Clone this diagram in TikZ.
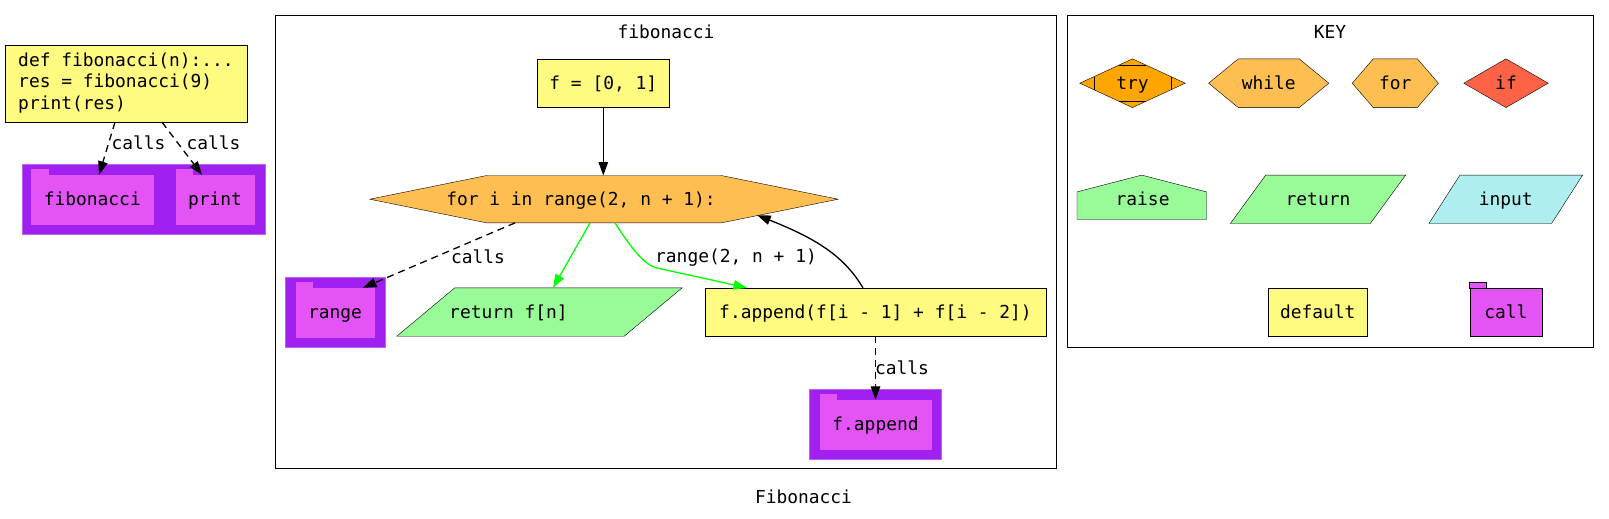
\documentclass[tikz,border=0pt]{standalone}
\usepackage{fontspec}
\setmonofont{DejaVu Sans Mono}
\usetikzlibrary{arrows.meta}
\pgfdeclarelayer{bg}
\pgfdeclarelayer{shp}
\pgfsetlayers{bg,shp,main}
\definecolor{ylw}{HTML}{FFFA80}
\definecolor{orng}{HTML}{FFBE52}
\definecolor{tryc}{HTML}{FFA500}
\definecolor{ifc}{HTML}{FF6347}
\definecolor{grn}{HTML}{98FB98}
\definecolor{turq}{HTML}{AFEEEE}
\definecolor{clpur}{HTML}{A020F0}
\definecolor{fold}{HTML}{E453F6}
\definecolor{edgegrn}{HTML}{00FF00}
\newcommand\hexfill[3]{\filldraw[fill=#3] (#1.west) -- ([xshift=#2]#1.north west) -- ([xshift=-#2]#1.north east) -- (#1.east) -- ([xshift=-#2]#1.south east) -- ([xshift=#2]#1.south west) -- cycle;}
\newcommand\parfill[3]{\filldraw[fill=#3] (#1.south west) -- ([xshift=#2]#1.north west) -- (#1.north east) -- ([xshift=-#2]#1.south east) -- cycle;}
\newcommand\diafill[2]{\filldraw[fill=#2] (#1.west) -- (#1.north) -- (#1.east) -- (#1.south) -- cycle;}
\newcommand\foldtab[3]{\filldraw[#3] (#1.north west) rectangle ([xshift=#2,yshift=6pt]#1.north west);}
\begin{document}
\begin{tikzpicture}[x=1pt,y=-1pt,line width=1.2pt,
  font=\fontsize{17.9}{21.3}\selectfont\ttfamily,
  >={Triangle[length=13.5pt,width=9.5pt]},
  txt/.style={inner sep=0pt,text height=12.6pt,text depth=0pt},
  box/.style={txt,draw,fill=ylw},
  ghost/.style={txt},
  folder/.style={txt,fill=fold,draw=fold},
  dashedge/.style={->,line width=1.3pt,dash pattern=on 7pt off 5pt},
  solidedge/.style={->,line width=1.3pt},
  greenedge/.style={->,line width=1.3pt,draw=edgegrn}]
\useasboundingbox (0,0) rectangle (1609,519);
\begin{pgfonlayer}{bg}
\fill[white] (0,0) rectangle (1609,519);
\filldraw[fill=clpur,draw=clpur!70!white] (21.7,164) rectangle (265,234);
\filldraw[fill=clpur,draw=clpur!70!white] (285,277) rectangle (385,347);
\filldraw[fill=clpur,draw=clpur!70!white] (809,389) rectangle (941,459);
\draw (275,15.4) rectangle (1056,468);
\draw (1067,15.4) rectangle (1592.7,347);
\end{pgfonlayer}

% left part
\node[draw,fill=ylw,inner sep=0pt,minimum width=242pt,minimum height=77pt] (main) at (126,83.5) {\begin{tabular}{@{}l@{}}def fibonacci(n):...\\res = fibonacci(9)\\print(res)\end{tabular}};
\node[folder,minimum width=121.3pt,minimum height=49pt] (fibcall) at (92.3,199.5) {fibonacci};
\node[folder,minimum width=78pt,minimum height=49pt] (printcall) at (215,199.5) {print};
\foldtab{fibcall}{16.7pt}{fill=fold,draw=fold}
\foldtab{printcall}{16.7pt}{fill=fold,draw=fold}
\draw[dashedge] ([xshift=-11pt]main.south) -- ([xshift=6.7pt]fibcall.north);
\draw[dashedge] ([xshift=36pt]main.south) -- ([xshift=-13pt]printcall.north);
\node[txt] (lc1) at (138.5,143) {calls};
\node[txt] (lc2) at (213.5,143) {calls};

% fibonacci cluster
\node[txt] (ftitle) at (666,32) {fibonacci};
\node[box,minimum width=131.3pt,minimum height=48pt] (finit) at (603.3,83) {f = [0, 1]};
\node[ghost,minimum width=468pt,minimum height=47pt] (forn) at (604,199.2) {};
\node[txt] (fornt) at (581,199.2) {for i in range(2, n + 1):};
\node[folder,minimum width=78pt,minimum height=49pt] (rangecall) at (335,312.5) {range};
\foldtab{rangecall}{16.7pt}{fill=fold,draw=fold}
\node[ghost,minimum width=285pt,minimum height=48pt] (retn) at (539.5,312) {};
\node[txt] (retnt) at (508.5,312) {return f[n]};
\node[box,minimum width=341pt,minimum height=48pt] (appendn) at (875.5,312) {f.append(f[i - 1] + f[i - 2])};
\node[folder,minimum width=111pt,minimum height=49pt] (appcall) at (875.5,424.5) {f.append};
\foldtab{appcall}{16.7pt}{fill=fold,draw=fold}
\begin{pgfonlayer}{shp}
\hexfill{forn}{117pt}{orng}
\parfill{retn}{58pt}{grn}
\end{pgfonlayer}
\draw[solidedge] (finit.south) -- (finit.south |- forn.north);
\draw[dashedge] ([xshift=-89pt]forn.south) -- ([xshift=28pt]rangecall.north);
\draw[greenedge] ([xshift=-14pt]forn.south) -- ([xshift=13.5pt]retn.north);
\draw[greenedge] ([xshift=11pt]forn.south) .. controls (628,243) and (643,265) .. (657,268) -- ([xshift=-128.5pt]appendn.north);
\draw[solidedge] ([xshift=-12.5pt]appendn.north) .. controls (845,258) and (820,240) .. ([xshift=-81pt,yshift=7.7pt]forn.south east);
\draw[dashedge] (appendn.south) -- (appendn.south |- appcall.north);
\node[txt] (lc3) at (478,257) {calls};
\node[txt] (lr) at (736,256.5) {range(2, n + 1)};
\node[txt] (lc4) at (902,367.7) {calls};

% KEY cluster
\node[txt] (keyt) at (1330,32) {KEY};
\node[ghost,minimum width=105pt,minimum height=48.3pt] (ktry) at (1132.5,83.2) {try};
\node[ghost,minimum width=119.8pt,minimum height=48.3pt] (kwhile) at (1268.7,83.2) {while};
\node[ghost,minimum width=85.7pt,minimum height=48.3pt] (kfor) at (1395.3,83.2) {for};
\node[ghost,minimum width=84pt,minimum height=48.3pt] (kif) at (1506,83.2) {if};
\node[ghost,minimum width=129.1pt,minimum height=44pt] (kraise) at (1141.75,197.3) {};
\node[txt] (kraiset) at (1142.6,199.4) {raise};
\node[ghost,minimum width=174.9pt,minimum height=48pt] (kreturn) at (1318,199.3) {return};
\node[ghost,minimum width=153.3pt,minimum height=48pt] (kinput) at (1505.75,199.3) {input};
\node[box,minimum width=98.9pt,minimum height=48.3pt] (kdefault) at (1317.75,311.85) {default};
\node[txt,fill=fold,draw,minimum width=72.3pt,minimum height=47.7pt] (kcall) at (1505.95,312.15) {call};
\foldtab{kcall}{16.5pt}{fill=fold,draw=black}
\begin{pgfonlayer}{shp}
\diafill{ktry}{tryc}
\draw ([xshift=14.4pt,yshift=6.6pt]ktry.west) -- ([xshift=14.4pt,yshift=-6.6pt]ktry.west);
\draw ([xshift=-14.4pt,yshift=6.6pt]ktry.east) -- ([xshift=-14.4pt,yshift=-6.6pt]ktry.east);
\draw ([xshift=-13.1pt,yshift=-6pt]ktry.north) -- ([xshift=13.1pt,yshift=-6pt]ktry.north);
\draw ([xshift=-13.1pt,yshift=6pt]ktry.south) -- ([xshift=13.1pt,yshift=6pt]ktry.south);
\hexfill{kwhile}{29.6pt}{orng}
\hexfill{kfor}{21pt}{orng}
\diafill{kif}{ifc}
\filldraw[fill=grn] (kraise.south west) -- ([yshift=27.6pt]kraise.south west) -- (kraise.north) -- ([yshift=27.6pt]kraise.south east) -- (kraise.south east) -- cycle;
\parfill{kreturn}{35.4pt}{grn}
\parfill{kinput}{31pt}{turq}
\end{pgfonlayer}

\node[txt] (gtitle) at (803.5,497) {Fibonacci};
\end{tikzpicture}
\end{document}
